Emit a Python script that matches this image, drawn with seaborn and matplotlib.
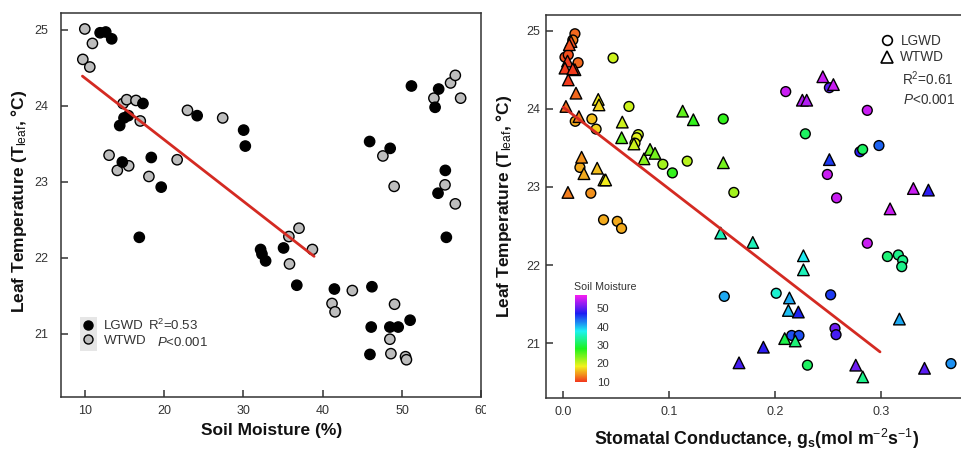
import numpy as np
import pandas as pd
import matplotlib
matplotlib.use("Agg")
import matplotlib.pyplot as plt
import matplotlib.colors as mcolors
from matplotlib.cm import ScalarMappable
from matplotlib.lines import Line2D
from matplotlib.patches import Rectangle
import seaborn as sns

# ---------------- data ----------------
# Panel A: leaf temperature vs soil moisture
lgwd_moisture = [11.93, 12.64, 13.39, 14.40, 14.94, 15.49, 17.33, 14.73, 18.38, 19.63,
                 16.87, 24.16, 30.02, 30.23, 32.16, 32.33, 32.79, 35.05, 36.72, 41.46,
                 46.19, 46.10, 45.94, 48.45, 49.50, 51.00, 45.90, 48.49, 51.17, 54.60,
                 54.15, 55.44, 54.52, 55.57]
lgwd_tleaf = [24.96, 24.97, 24.88, 23.74, 23.84, 23.87, 24.03, 23.26, 23.32, 22.93,
              22.27, 23.87, 23.68, 23.47, 22.11, 22.05, 21.96, 22.13, 21.64, 21.59,
              21.62, 21.09, 20.73, 21.09, 21.09, 21.18, 23.53, 23.44, 24.26, 24.22,
              23.98, 23.15, 22.85, 22.27]
wtwd_moisture = [10.00, 10.96, 9.75, 10.63, 14.82, 15.28, 16.45, 16.99, 13.06, 14.10,
                 15.53, 18.08, 21.64, 22.94, 27.38, 37.00, 35.72, 35.80, 38.69, 41.16,
                 41.54, 43.72, 47.57, 48.99, 49.04, 48.45, 48.58, 50.42, 50.54, 54.00,
                 56.10, 56.70, 57.37, 55.40, 56.70]
wtwd_tleaf = [25.01, 24.82, 24.61, 24.51, 24.03, 24.08, 24.07, 23.80, 23.35, 23.15,
              23.21, 23.07, 23.29, 23.94, 23.84, 22.39, 22.28, 21.92, 22.11, 21.40,
              21.29, 21.57, 23.34, 22.94, 21.39, 20.93, 20.74, 20.70, 20.66, 24.10,
              24.30, 24.40, 24.10, 22.96, 22.71]
moisture_fit_x = [9.7, 38.9]
moisture_fit_y = [24.39, 22.02]

# Panel B: leaf temperature vs stomatal conductance, coloured by soil moisture
lgwd_gs = [0.011, 0.009, 0.0016, 0.0047, 0.014, 0.047, 0.0113, 0.027, 0.031, 0.062,
           0.0708, 0.0693, 0.0677, 0.094, 0.103, 0.117, 0.0157, 0.026, 0.038, 0.051,
           0.055, 0.151, 0.161, 0.152, 0.201, 0.2156, 0.2225, 0.210, 0.2285, 0.2305,
           0.2512, 0.2493, 0.258, 0.2524, 0.2565, 0.2575, 0.280, 0.2826, 0.287, 0.298,
           0.287, 0.306, 0.3163, 0.3204, 0.3195, 0.366]
lgwd_gs_tleaf = [24.96, 24.88, 24.66, 24.69, 24.59, 24.65, 23.84, 23.87, 23.74, 24.03,
                 23.67, 23.63, 23.56, 23.29, 23.18, 23.33, 23.25, 22.92, 22.58, 22.56,
                 22.47, 23.87, 22.93, 21.60, 21.64, 21.10, 21.10, 24.22, 23.68, 20.72,
                 24.27, 23.16, 22.86, 21.62, 21.19, 21.11, 23.45, 23.48, 23.98, 23.53,
                 22.28, 22.11, 22.13, 22.06, 21.98, 20.74]
lgwd_gs_moisture = [12, 13, 11, 11, 12, 20, 15, 16, 17, 20,
                    20, 19, 19, 22, 27, 21, 15, 14, 15, 15,
                    15, 27, 22, 41, 36, 45, 45, 55, 31, 31,
                    50, 55, 55, 46, 51, 49, 48, 31, 55, 44,
                    55, 32, 33, 33, 33, 42]
wtwd_gs = [0.0073, 0.0057, 0.004, 0.0016, 0.011, 0.009, 0.0047, 0.012, 0.0025, 0.0148,
           0.0173, 0.0195, 0.0044, 0.033, 0.0337, 0.032, 0.0384, 0.040, 0.0557, 0.0551,
           0.0667, 0.0762, 0.0819, 0.0866, 0.1127, 0.1228, 0.1511, 0.1486, 0.1789, 0.2267,
           0.2267, 0.2135, 0.2125, 0.2219, 0.209, 0.219, 0.1889, 0.1659, 0.245, 0.255,
           0.2257, 0.2298, 0.2512, 0.3305, 0.3447, 0.3085, 0.3173, 0.2761, 0.2827, 0.341]
wtwd_gs_tleaf = [24.86, 24.82, 24.61, 24.52, 24.50, 24.51, 24.37, 24.20, 24.03, 23.90,
                 23.38, 23.17, 22.93, 24.12, 24.05, 23.24, 23.09, 23.09, 23.83, 23.63,
                 23.55, 23.36, 23.48, 23.43, 23.97, 23.86, 23.31, 22.41, 22.29, 22.12,
                 21.94, 21.58, 21.42, 21.40, 21.06, 21.03, 20.95, 20.75, 24.41, 24.31,
                 24.11, 24.11, 23.35, 22.98, 22.96, 22.72, 21.31, 20.72, 20.57, 20.68]
wtwd_gs_moisture = [11, 11, 10, 10, 11, 10, 10, 12, 12, 13,
                    14, 15, 13, 18, 17, 16, 18, 18, 20, 25,
                    20, 23, 24, 24, 25, 27, 24, 35, 35, 38,
                    35, 41, 40, 47, 30, 32, 48, 49, 55, 55,
                    54, 54, 46, 55, 48, 55, 41, 51, 33, 50]
gs_fit_x = [0.0, 0.299]
gs_fit_y = [24.02, 20.89]

moisture_ticks = [10, 20, 30, 40, 50, 60]
gs_ticks = [0.0, 0.1, 0.2, 0.3]
gs_tick_labels = ["0.0", "0.1", "0.2", "0.3"]
tleaf_ticks = [21, 22, 23, 24, 25]
colorbar_ticks = [10, 20, 30, 40, 50]

# ---------------- style ----------------
sns.set_style("ticks")
plt.rcParams["font.family"] = ["Liberation Sans", "DejaVu Sans"]
plt.rcParams.update({
    "mathtext.fontset": "custom",
    "mathtext.rm": "Liberation Sans",
    "mathtext.it": "Liberation Sans:italic",
    "mathtext.bf": "Liberation Sans:bold",
    "axes.edgecolor": "#333333",
    "axes.linewidth": 1.1,
})

TXT = "#333333"
FIT_RED = "#d42a22"
W, H = 961, 450
fig = plt.figure(figsize=(W / 100, H / 100), dpi=100)
fig.patch.set_facecolor("white")


def pix_rect(x0, y0, x1, y1):
    """Pixel box (origin top-left) -> figure-fraction rectangle."""
    return [x0 / W, 1 - y1 / H, (x1 - x0) / W, (y1 - y0) / H]


def fig_xy(x, y):
    return x / W, 1 - y / H


ax1 = fig.add_axes(pix_rect(61, 13, 481.5, 397))
ax2 = fig.add_axes(pix_rect(545.7, 15, 987, 398))

# ---------------- panel A ----------------
df_a = pd.DataFrame({
    "moisture": wtwd_moisture + lgwd_moisture,
    "tleaf": wtwd_tleaf + lgwd_tleaf,
    "site": ["WTWD"] * len(wtwd_moisture) + ["LGWD"] * len(lgwd_moisture),
})
sns.scatterplot(data=df_a, x="moisture", y="tleaf", hue="site",
                palette={"LGWD": "#000000", "WTWD": "#bdbdbd"},
                edgecolor="black", linewidth=1.0, s=55, legend=False,
                zorder=3, ax=ax1)
sns.lineplot(x=moisture_fit_x, y=moisture_fit_y, color=FIT_RED, linewidth=2.0,
             zorder=4, ax=ax1)
ax1.set_xlim(7, 60)
ax1.set_ylim(20.17, 25.22)
ax1.set_xticks(moisture_ticks)
ax1.set_yticks(tleaf_ticks)
ax1.set_xlabel("Soil Moisture (%)", fontsize=12.5, fontweight="bold", color="#111111")
ax1.set_ylabel(r"Leaf Temperature (T$_{\mathrm{leaf}}$, °C)", fontsize=12.5,
               fontweight="bold", color="#111111")
ax1.xaxis.set_label_coords(0.5, -0.068)
ax1.yaxis.set_label_coords(-0.077, 0.51)
ax1.tick_params(axis="both", direction="in", length=5, width=1.1, color="#333333",
                labelsize=9, labelcolor=TXT)
ax1.tick_params(axis="x", pad=6)
ax1.tick_params(axis="y", pad=9)
for sp in ax1.spines.values():
    sp.set_visible(True)

# legend for panel A
ax1.add_patch(Rectangle(fig_xy(80, 351), 17 / W, 34 / H, transform=fig.transFigure,
                        facecolor="#e6e6e6", edgecolor="none", zorder=1, clip_on=False))
handles_a = [
    Line2D([], [], ls="none", marker="o", markersize=6.5, markerfacecolor="#000000",
           markeredgecolor="black", markeredgewidth=1.0),
    Line2D([], [], ls="none", marker="o", markersize=6.5, markerfacecolor="#bdbdbd",
           markeredgecolor="black", markeredgewidth=1.0),
]
leg_a = ax1.legend(handles_a, ["LGWD", "WTWD"], loc="center left",
                   bbox_to_anchor=fig_xy(81.5, 333.5), bbox_transform=fig.transFigure,
                   frameon=False, fontsize=9.5, handlelength=1.0, handletextpad=0.7,
                   borderpad=0, borderaxespad=0, labelspacing=0.2)
for t in leg_a.get_texts():
    t.set_color(TXT)
ax1.text(*fig_xy(148.5, 325), r"R$^{2}$=0.53", transform=fig.transFigure,
         fontsize=9.5, color=TXT, va="center", ha="left")
ax1.text(*fig_xy(157, 342.5), r"$\mathit{P}$<0.001", transform=fig.transFigure,
         fontsize=9.5, color=TXT, va="center", ha="left")

# ---------------- panel B ----------------
moisture_min = min(lgwd_moisture + wtwd_moisture)
moisture_max = max(lgwd_moisture + wtwd_moisture)
hues = np.linspace(0.02, 0.84, 256)
hsv = np.stack([hues, np.full(256, 0.88), np.full(256, 0.95)], axis=1)
moisture_cmap = mcolors.ListedColormap(mcolors.hsv_to_rgb(hsv), name="moisture")
norm = mcolors.Normalize(moisture_min, moisture_max)

df_b = pd.DataFrame({
    "gs": lgwd_gs + wtwd_gs,
    "tleaf": lgwd_gs_tleaf + wtwd_gs_tleaf,
    "moisture": lgwd_gs_moisture + wtwd_gs_moisture,
    "site": ["LGWD"] * len(lgwd_gs) + ["WTWD"] * len(wtwd_gs),
})
sns.scatterplot(data=df_b[df_b.site == "LGWD"], x="gs", y="tleaf", hue="moisture",
                palette=moisture_cmap, hue_norm=norm, marker="o", s=50,
                edgecolor="black", linewidth=1.0, legend=False, zorder=3, ax=ax2)
sns.scatterplot(data=df_b[df_b.site == "WTWD"], x="gs", y="tleaf", hue="moisture",
                palette=moisture_cmap, hue_norm=norm, marker="^", s=70,
                edgecolor="black", linewidth=1.0, legend=False, zorder=3, ax=ax2)
sns.lineplot(x=gs_fit_x, y=gs_fit_y, color=FIT_RED, linewidth=2.0, zorder=4, ax=ax2)
ax2.set_xlim(-0.0166, 0.40)
ax2.set_ylim(20.30, 25.20)
ax2.set_xticks(gs_ticks)
ax2.set_xticklabels(gs_tick_labels)
ax2.set_yticks(tleaf_ticks)
ax2.set_xlabel(r"Stomatal Conductance, g$_{\mathbf{s}}$(mol m$^{-2}$s$^{-1}$)",
               fontsize=12.8, fontweight="bold", color="#111111")
ax2.set_ylabel(r"Leaf Temperature (T$_{\mathrm{leaf}}$, °C)", fontsize=12.5,
               fontweight="bold", color="#111111")
ax2.xaxis.set_label_coords(0.479, -0.076)
ax2.yaxis.set_label_coords(-0.072, 0.5)
ax2.tick_params(axis="both", direction="in", length=5, width=1.1, color="#333333",
                labelsize=9, labelcolor=TXT)
ax2.tick_params(axis="x", pad=6)
ax2.tick_params(axis="y", pad=4)
for sp in ax2.spines.values():
    sp.set_visible(True)

# the right panel's white margin overlaps the last tick label of the left panel
ax2.add_patch(Rectangle(fig_xy(486, 425), 40 / W, 25 / H, transform=fig.transFigure,
                        facecolor="white", edgecolor="none", zorder=10, clip_on=False))

handles_b = [
    Line2D([], [], ls="none", marker="o", markersize=7, markerfacecolor="white",
           markeredgecolor="black", markeredgewidth=1.2),
    Line2D([], [], ls="none", marker="^", markersize=8.5, markerfacecolor="white",
           markeredgecolor="black", markeredgewidth=1.2),
]
leg_b = ax2.legend(handles_b, ["LGWD", "WTWD"], loc="center left",
                   bbox_to_anchor=fig_xy(880, 49), bbox_transform=fig.transFigure,
                   frameon=False, fontsize=9.8, handlelength=1.05, handletextpad=0.45,
                   borderpad=0, borderaxespad=0, labelspacing=0.2)
for t in leg_b.get_texts():
    t.set_color(TXT)
ax2.text(*fig_xy(901.7, 78.5), r"R$^{2}$=0.61", transform=fig.transFigure,
         fontsize=9.8, color=TXT, va="center", ha="left")
ax2.text(*fig_xy(902.7, 100), r"$\mathit{P}$<0.001", transform=fig.transFigure,
         fontsize=9.8, color=TXT, va="center", ha="left")

# colour bar for soil moisture
cax = fig.add_axes(pix_rect(575, 295, 587, 382))
cb = fig.colorbar(ScalarMappable(norm=norm, cmap=moisture_cmap), cax=cax)
cb.outline.set_visible(False)
cb.set_ticks(colorbar_ticks)
cax.tick_params(length=0, labelsize=8.2, labelcolor=TXT, pad=7)
fig.text(*fig_xy(573.5, 287.5), "Soil Moisture", fontsize=7.7, color=TXT,
         ha="left", va="center")

fig.savefig("out.png", dpi=100, facecolor="white")
